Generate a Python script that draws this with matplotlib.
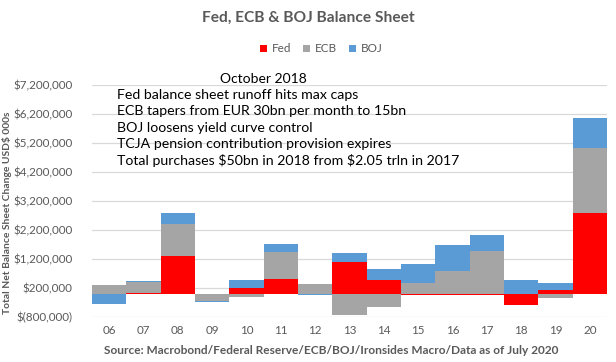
import numpy as np
from matplotlib import pyplot as plt
from matplotlib.ticker import FuncFormatter

plt.rcParams['font.family'] = ['Lato', 'DejaVu Sans']

years = ['06', '07', '08', '09', '10', '11', '12', '13', '14', '15', '16', '17', '18', '19', '20']
# USD 000s
fed = [0, 35000, 1290000, 0, 195000, 505000, 0, 1090000, 470000, -35000, -35000, -35000, -400000, 115000, 2780000]
ecb = [285000, 365000, 1110000, -255000, -115000, 920000, 320000, -750000, -470000, 355000, 780000, 1470000, 0, -160000, 2230000]
boj = [-370000, 35000, 370000, -35000, 265000, 275000, -45000, 300000, 370000, 655000, 885000, 540000, 460000, 240000, 1060000]

series = [('Fed', fed, '#FF0000'), ('ECB', ecb, '#A5A5A5'), ('BOJ', boj, '#5B9BD5')]
note_title = "October 2018"
note_lines = ["Fed balance sheet runoff hits max caps",
              "ECB tapers from EUR 30bn per month to 15bn",
              "BOJ loosens yield curve control",
              "TCJA pension contribution provision expires",
              "Total purchases \\$50bn in 2018 from \\$2.05 trln in 2017"]

txt = '#595959'
fig = plt.figure(figsize=(6.16, 3.62), dpi=100)
ax = fig.add_axes([92/616, 1-316.7/362, (607-92)/616, (316.7-85)/362])

x = np.arange(len(years))
pos = np.zeros(len(years))
neg = np.zeros(len(years))
for name, vals, col in series:
    v = np.array(vals, dtype=float)
    bottom = np.where(v >= 0, pos, neg)
    ax.bar(x, v, width=1.0, bottom=bottom, color=col, label=name, zorder=3)
    pos += np.where(v >= 0, v, 0)
    neg += np.where(v < 0, v, 0)

ax.set_xlim(-0.5, len(years) - 0.5)
ax.set_ylim(-800000, 7200000)
ax.set_yticks(np.arange(-800000, 7200001, 1000000))
ax.set_xticks(x)
ax.set_xticklabels(years)

def money(v, p):
    if v < 0:
        return '\\$({:,.0f})'.format(-v)
    return '\\${:,.0f}'.format(v)
ax.yaxis.set_major_formatter(FuncFormatter(money))

ax.grid(axis='y', color='#D9D9D9', lw=0.9, zorder=0)
for s in ax.spines.values():
    s.set_visible(False)
ax.tick_params(length=0, colors=txt, labelsize=8.4)
ax.tick_params(axis='y', pad=14)
ax.tick_params(axis='x', pad=6)

ax.set_ylabel("Total Net Balance Sheet Change USD\\$ 000s", fontsize=7.4, fontweight='bold', color=txt)
ax.yaxis.set_label_coords((12-92)/515, (316.7-213)/231.7)

fig.text(308/616, 1-18/362, "Fed, ECB & BOJ Balance Sheet", ha='center', va='center',
         fontsize=11.2, fontweight='bold', color=txt)
fig.legend(loc='center', bbox_to_anchor=(321/616, 1-49/362), ncol=3, frameon=False,
           fontsize=8.5, handlelength=0.6, handleheight=0.6, handletextpad=0.4,
           columnspacing=1.0, labelcolor=txt)

fig.text(263/616, 1-79/362, note_title, ha='center', va='center', fontsize=10, color='black')
for i, line in enumerate(note_lines):
    fig.text(117/616, 1-(95+i*16.3)/362, line, ha='left', va='center', fontsize=10.2, color='black')

fig.text(331/616, 1-350/362, "Source: Macrobond/Federal Reserve/ECB/BOJ/Ironsides Macro/Data as of July 2020",
         ha='center', va='center', fontsize=8.6, fontweight='bold', color=txt)

plt.savefig('out.png', dpi=100)
